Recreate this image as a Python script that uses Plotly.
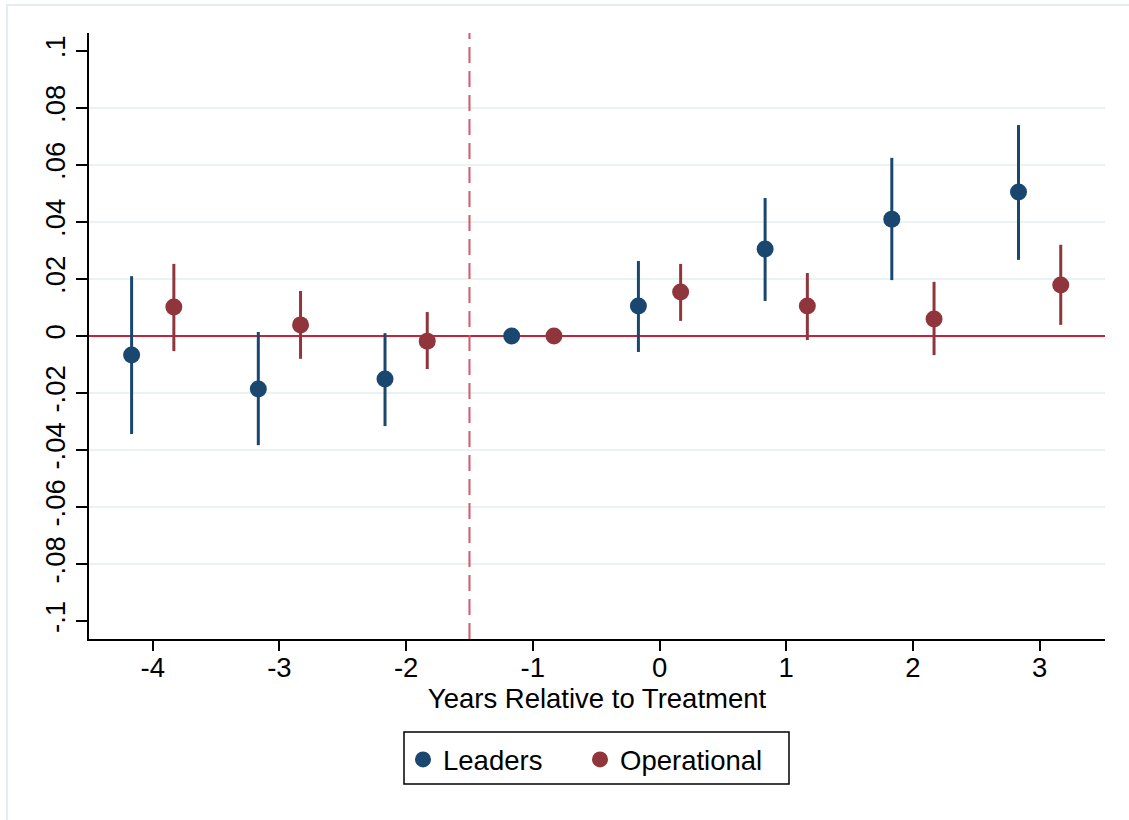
import plotly.graph_objects as go

# ---- data ----
periods = [-4, -3, -2, -1, 0, 1, 2, 3]
period_labels = ["-4", "-3", "-2", "-1", "0", "1", "2", "3"]

leaders_coef = [-0.0067, -0.0186, -0.0151, 0.0, 0.0105, 0.0305, 0.0410, 0.0505]
leaders_hi = [0.0210, 0.0014, 0.0010, 0.0, 0.0263, 0.0484, 0.0625, 0.0740]
leaders_lo = [-0.0344, -0.0383, -0.0316, 0.0, -0.0056, 0.0123, 0.0196, 0.0267]

oper_coef = [0.0102, 0.0039, -0.0018, 0.0, 0.0154, 0.0105, 0.0060, 0.0179]
oper_hi = [0.0253, 0.0158, 0.0084, 0.0, 0.0253, 0.0221, 0.0190, 0.0320]
oper_lo = [-0.0053, -0.0080, -0.0116, 0.0, 0.0053, -0.0014, -0.0067, 0.0039]

y_tickvals = [-0.1, -0.08, -0.06, -0.04, -0.02, 0.0, 0.02, 0.04, 0.06, 0.08, 0.1]
y_ticktext = ["-.1", "-.08", "-.06", "-.04", "-.02", "0", ".02", ".04", ".06", ".08", ".1"]

treatment_line = -1.5

# ---- styling ----
NAVY = "#1a476f"
MAROON = "#90353b"
ZERO_RED = "#c4243a"
DASH_RED = "#d4596a"
GRID = "#eaf2f3"
FONT = "Liberation Sans, Arial, Helvetica, sans-serif"
FS = 27.5
OFFSET = 1 / 6

W, H = 1129, 820
ML, MR, MT, MB = 89, 24, 33, 181
pw = W - ML - MR
ph = H - MT - MB


def px_x(p):
    return (p - ML) / pw


def px_y(p):
    return (H - MB - p) / ph


fig = go.Figure()


def add_series(name, coef, lo, hi, color, shift, legend):
    xs = [p + shift for p in periods]
    fig.add_trace(go.Scatter(
        x=xs, y=coef, mode="markers", name=name, legend=legend,
        marker=dict(color=color, size=17, line=dict(width=0)),
        error_y=dict(type="data", symmetric=False,
                     array=[h - c for h, c in zip(hi, coef)],
                     arrayminus=[c - l for c, l in zip(coef, lo)],
                     color=color, thickness=3, width=0),
    ))


add_series("Leaders", leaders_coef, leaders_lo, leaders_hi, NAVY, -OFFSET, "legend")
add_series("Operational", oper_coef, oper_lo, oper_hi, MAROON, OFFSET, "legend2")

shapes = []
# horizontal gridlines (not at axis extremes, not at zero)
for v in y_tickvals[1:-1]:
    if v == 0:
        continue
    shapes.append(dict(type="line", xref="paper", yref="y", x0=0, x1=1, y0=v, y1=v,
                       line=dict(color=GRID, width=2), layer="below"))
# zero line
shapes.append(dict(type="line", xref="paper", yref="y", x0=0, x1=1, y0=0, y1=0,
                   line=dict(color=ZERO_RED, width=2), layer="below"))
# treatment line
shapes.append(dict(type="line", xref="x", yref="paper", x0=treatment_line, x1=treatment_line,
                   y0=0, y1=1, line=dict(color=DASH_RED, width=2, dash="16px,8px"), layer="below"))
# outer frame (Stata graph region border)
shapes.append(dict(type="rect", xref="paper", yref="paper",
                   x0=px_x(7), x1=px_x(W + 10), y0=px_y(H + 10), y1=px_y(5),
                   line=dict(color="#e3edef", width=2), fillcolor="rgba(0,0,0,0)", layer="below"))
# legend box
shapes.append(dict(type="rect", xref="paper", yref="paper",
                   x0=px_x(404), x1=px_x(789), y0=px_y(784), y1=px_y(732),
                   line=dict(color="black", width=1.5), fillcolor="rgba(0,0,0,0)", layer="above"))

legend_common = dict(orientation="h", xanchor="left", y=px_y(735), yanchor="top",
                     borderwidth=0, font=dict(size=FS), bgcolor="rgba(0,0,0,0)")

fig.update_layout(
    width=W, height=H,
    margin=dict(l=ML, r=MR, t=MT, b=MB),
    paper_bgcolor="white", plot_bgcolor="white",
    font=dict(family=FONT, size=FS, color="black"),
    shapes=shapes,
    showlegend=True,
    legend=dict(x=px_x(403), **legend_common),
    legend2=dict(x=px_x(580), **legend_common),
    xaxis=dict(range=[-4.503, 3.516], tickvals=periods, ticktext=period_labels,
               showline=True, linecolor="black", linewidth=1.5,
               ticks="outside", ticklen=10, tickwidth=1.5, tickcolor="black",
               ticklabelstandoff=-7,
               showgrid=False, zeroline=False, tickfont=dict(size=FS),
               title=dict(text="Years Relative to Treatment", font=dict(size=FS), standoff=6)),
    yaxis=dict(range=[-0.1063, 0.1063], tickvals=y_tickvals, ticktext=y_ticktext,
               tickangle=-90, showline=True, linecolor="black", linewidth=1.5,
               ticks="outside", ticklen=11, tickwidth=1.5, tickcolor="black",
               showgrid=False, zeroline=False, tickfont=dict(size=FS)),
)

fig.write_html("out.html")
